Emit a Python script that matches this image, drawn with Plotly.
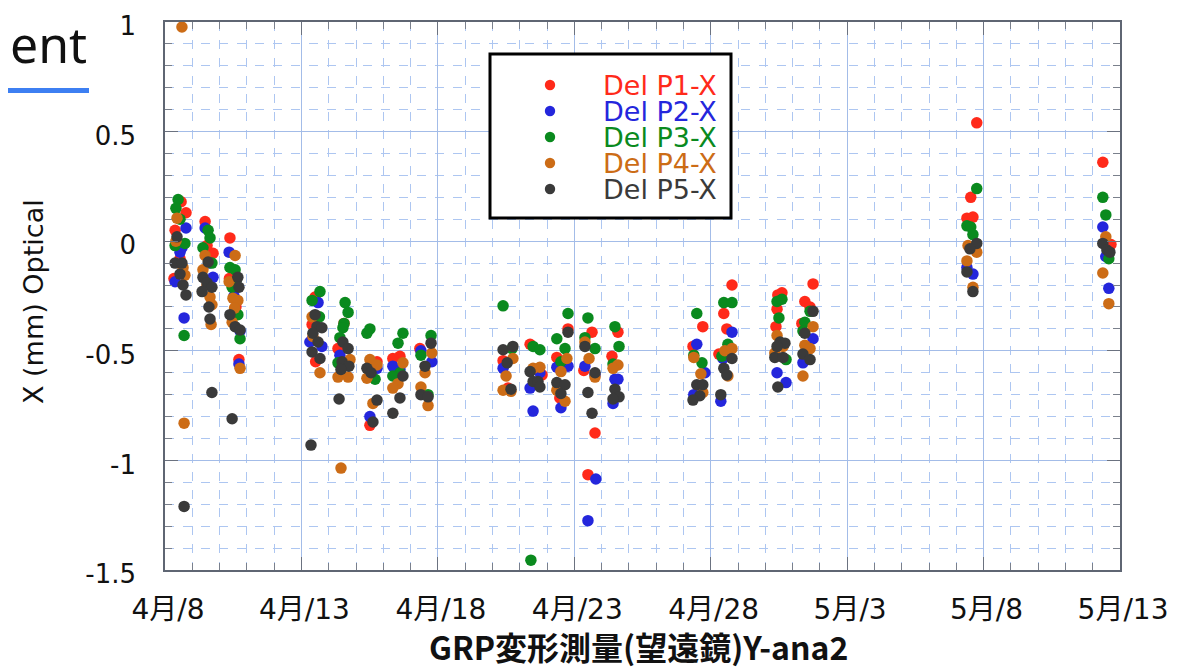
import pandas as pd
import plotly.graph_objects as go

# ---------------- data (x = day of April, May days continue 31, 32, ...) ----------------
p1_day = [8.59, 8.77, 8.37, 8.33, 8.55,
          9.47, 9.76, 9.54,
          10.38, 10.36, 10.71, 10.60,
          13.50, 13.39, 13.52, 14.56, 14.34,
          15.77, 15.51, 16.61, 16.35, 17.34,
          20.39, 20.57, 21.38, 21.82, 22.77, 22.36, 22.47, 23.65, 23.35, 23.76, 23.50, 24.60, 24.38,
          27.71, 27.35, 28.78, 28.48, 28.59, 28.30,
          30.61, 30.46, 30.43, 30.39, 31.75, 31.45, 31.64, 31.34,
          37.75, 37.53, 37.39, 37.61,
          42.37, 42.67]
p1_val = [0.18, 0.13, 0.05, -0.17, -0.08,
          0.09, -0.055, -0.02,
          0.015, -0.17, -0.54, -0.30,
          -0.255, -0.38, -0.55, -0.375, -0.49,
          -0.55, -0.84, -0.525, -0.535, -0.49,
          -0.545, -0.67, -0.47, -0.61, -0.40, -0.53, -0.715, -0.415, -0.59, -0.875, -1.065, -0.415, -0.525,
          -0.39, -0.48, -0.20, -0.33, -0.40, -0.515,
          -0.235, -0.245, -0.31, -0.39, -0.195, -0.275, -0.30, -0.375,
          0.54, 0.20, 0.105, 0.11,
          0.36, -0.015]

p2_day = [8.77, 8.62, 8.55, 8.37, 8.70,
          9.47, 9.76, 9.61,
          10.35, 10.75, 10.71, 10.53,
          13.61, 13.39, 13.31, 13.75, 14.41,
          15.77, 15.51, 16.35, 16.61, 17.38, 17.78,
          20.39, 21.38, 21.49, 21.74, 22.36, 22.77, 22.51, 23.39, 23.76, 23.79, 23.50, 24.49, 24.60, 24.42,
          27.49, 27.79, 27.38, 28.78, 28.45, 28.37,
          30.43, 30.76, 30.54, 31.75, 31.38,
          37.39, 37.61,
          42.37, 42.48, 42.59]
p2_val = [0.06, -0.03, -0.05, -0.185, -0.35,
          0.06, -0.165, -0.10,
          -0.05, -0.41, -0.56, -0.25,
          -0.28, -0.45, -0.46, -0.48, -0.52,
          -0.58, -0.80, -0.57, -0.585, -0.50, -0.55,
          -0.58, -0.67, -0.775, -0.60, -0.575, -0.57, -0.76, -0.57, -0.61, -1.085, -1.275, -0.63, -0.63, -0.74,
          -0.47, -0.60, -0.70, -0.415, -0.535, -0.73,
          -0.60, -0.645, -0.47, -0.445, -0.555,
          -0.12, -0.15,
          0.065, -0.07, -0.215]

p3_day = [8.48, 8.40, 8.37, 8.73, 8.70, 8.55,
          9.58, 9.65, 9.39, 9.72,
          10.38, 10.57, 10.46, 10.67, 10.75, 10.60,
          13.68, 13.39, 13.66, 14.60, 14.71, 14.56, 14.52, 14.41, 14.34,
          15.40, 15.51, 15.70, 16.72, 16.54, 16.61, 16.35, 17.75, 17.38, 17.64,
          20.39, 20.72, 21.41, 21.49, 21.74, 22.77, 22.36, 22.66, 22.51, 23.50, 23.39, 23.76, 24.49, 24.64, 24.42,
          27.49, 27.38, 27.68, 28.48, 28.78, 28.63, 28.41,
          30.43, 30.61, 30.50, 30.76, 31.64, 31.45, 31.38,
          37.75, 37.39, 37.53, 37.61,
          42.37, 42.48, 42.59]
p3_val = [0.19, 0.15, -0.02, -0.01, -0.43, 0.10,
          0.05, 0.015, -0.03, -0.10,
          -0.12, -0.13, -0.21, -0.335, -0.445, -0.18,
          -0.23, -0.27, -0.345, -0.28, -0.325, -0.375, -0.395, -0.44, -0.555,
          -0.42, -0.40, -0.63, -0.42, -0.465, -0.60, -0.615, -0.43, -0.52, -0.70,
          -0.295, -0.49, -1.455, -0.48, -0.495, -0.33, -0.445, -0.49, -0.55, -0.35, -0.44, -0.49, -0.39, -0.48, -0.56,
          -0.33, -0.52, -0.555, -0.28, -0.28, -0.47, -0.525,
          -0.275, -0.265, -0.35, -0.54, -0.32, -0.37, -0.41,
          0.24, 0.07, 0.065, 0.03,
          0.20, 0.12, -0.08]

p4_day = [8.62, 8.44, 8.66, 8.73, 8.70, 8.40,
          9.47, 9.39, 9.65, 9.72, 9.69, 9.54,
          10.57, 10.35, 10.49, 10.67, 10.55, 10.46, 10.75,
          13.39, 13.42, 13.68, 14.78, 14.34, 14.71, 14.45,
          15.51, 15.77, 15.40, 15.62, 16.72, 16.54, 16.35, 17.78, 17.53, 17.38, 17.64,
          20.75, 20.50, 20.39, 20.68, 21.49, 21.74, 22.73, 22.51, 22.36, 22.66, 23.39, 23.54, 23.76, 24.60, 24.42,
          27.38, 27.64, 27.71, 28.78, 28.52, 28.63,
          30.43, 30.65, 30.35, 31.75, 31.45, 31.64, 31.38,
          37.43, 37.75, 37.39, 37.61,
          42.48, 42.37, 42.59]
p4_val = [0.977, 0.105, -0.12, -0.155, -0.83, 0.0,
          -0.065, -0.13, -0.255, -0.29, -0.38, -0.20,
          -0.065, -0.185, -0.26, -0.27, -0.305, -0.37, -0.58,
          -0.345, -0.435, -0.60, -0.54, -0.62, -0.62, -1.035,
          -0.54, -0.565, -0.625, -0.74, -0.555, -0.65, -0.67, -0.51, -0.60, -0.665, -0.75,
          -0.535, -0.615, -0.68, -0.685, -0.58, -0.575, -0.535, -0.595, -0.68, -0.73, -0.46, -0.535, -0.62, -0.565, -0.58,
          -0.53, -0.605, -0.69, -0.49, -0.50, -0.615,
          -0.43, -0.48, -0.51, -0.39, -0.475, -0.49, -0.615,
          -0.02, -0.05, -0.09, -0.21,
          0.02, -0.145, -0.285]

p5_day = [8.44, 8.37, 8.62, 8.66, 8.77, 8.70, 8.55,
          9.58, 9.39, 9.54, 9.72, 9.36, 9.61, 9.65, 9.72,
          10.67, 10.71, 10.38, 10.57, 10.75, 10.46,
          13.50, 13.57, 13.75, 13.42, 13.61, 13.39, 13.68, 13.35, 14.52, 14.71, 14.49, 14.74, 14.45, 14.38,
          15.40, 15.55, 15.77, 15.62, 16.72, 16.61, 16.35, 17.75, 17.53, 17.38, 17.64,
          20.39, 20.75, 20.54, 20.68, 21.38, 21.49, 21.67, 21.74, 22.77, 22.36, 22.66, 22.51, 23.39, 23.76, 23.50, 23.65, 24.49, 24.64, 24.42,
          27.49, 27.71, 27.60, 27.35, 28.78, 28.48, 28.59, 28.37,
          30.54, 30.72, 30.43, 30.35, 30.65, 30.46, 31.75, 31.45, 31.38, 31.64,
          37.75, 37.50, 37.39, 37.61,
          42.37, 42.52, 42.63]
p5_val = [0.02, -0.10, -0.10, -0.20, -0.245, -1.21, -0.15,
          -0.095, -0.165, -0.19, -0.21, -0.23, -0.30, -0.355, -0.69,
          -0.165, -0.21, -0.335, -0.39, -0.405, -0.81,
          -0.335, -0.39, -0.395, -0.42, -0.46, -0.505, -0.535, -0.93, -0.46, -0.49, -0.55, -0.57, -0.585, -0.72,
          -0.58, -0.60, -0.725, -0.825, -0.615, -0.715, -0.785, -0.465, -0.57, -0.70, -0.71,
          -0.495, -0.48, -0.555, -0.675, -0.595, -0.64, -0.64, -0.665, -0.415, -0.645, -0.655, -0.695, -0.48, -0.60, -0.69, -0.785, -0.675, -0.71, -0.72,
          -0.655, -0.655, -0.705, -0.725, -0.535, -0.58, -0.61, -0.70,
          -0.46, -0.465, -0.48, -0.53, -0.53, -0.665, -0.32, -0.42, -0.515, -0.54,
          -0.01, -0.035, -0.14, -0.23,
          -0.01, -0.04, -0.05]

series_names = ["Del P1-X", "Del P2-X", "Del P3-X", "Del P4-X", "Del P5-X"]
series_colors = ["#ff2a1a", "#2426dc", "#0a8a1e", "#cc6c16", "#3a3a3a"]

tick_dates = ["2015-04-08", "2015-04-13", "2015-04-18", "2015-04-23",
              "2015-04-28", "2015-05-03", "2015-05-08", "2015-05-13"]
tick_labels = ["4月/8", "4月/13", "4月/18", "4月/23", "4月/28", "5月/3", "5月/8", "5月/13"]
y_ticks = [1, 0.5, 0, -0.5, -1, -1.5]
y_labels = ["1", "0.5", "0", "-0.5", "-1", "-1.5"]

# ---------------- figure ----------------
BASE = pd.Timestamp("2015-03-31")


def to_dates(days):
    return BASE + pd.to_timedelta(days, unit="D")


# the page body has an 8px margin; size the figure so the plot area lands where the reference has it
BODY = 8
W, H = 1180 - 2 * BODY, 669 - BODY
PAGE_L, PAGE_T = 165, 22          # plot-area corner in window pixels
PW, PH = 955, 548
ML, MT = PAGE_L - BODY, PAGE_T - BODY
MR, MB = W - ML - PW, H - MT - PH


def px(x):
    return (x - PAGE_L) / PW


def py(y):
    return 1 - (y - PAGE_T) / PH


fig = go.Figure()
all_days = [p1_day, p2_day, p3_day, p4_day, p5_day]
all_vals = [p1_val, p2_val, p3_val, p4_val, p5_val]
for name, col, d, v in zip(series_names, series_colors, all_days, all_vals):
    assert len(d) == len(v), name
    fig.add_trace(go.Scatter(
        x=to_dates(d), y=v, mode="markers", name=name,
        marker=dict(color=col, size=11.5, line=dict(width=0)),
        cliponaxis=False,
    ))

major_grid = "#a3bce8"
minor_grid = "#adc6f1"
axis_common = dict(
    showline=True, linecolor="#5f6673", linewidth=1.5, mirror="ticks",
    ticks="inside", ticklen=13, tickcolor="#6b7280", tickwidth=1.2,
    showgrid=True, gridcolor=major_grid, gridwidth=1.3,
    zeroline=False, automargin=False,
)

fig.update_xaxes(
    type="date", range=["2015-04-08", "2015-05-13"],
    tickmode="array", tickvals=tick_dates, ticktext=tick_labels,
    ticklabelstandoff=14, ticklabelshift=3,
    tickfont=dict(family="DejaVu Sans, Noto Sans CJK JP", size=28, color="#111111"),
    minor=dict(dtick=86400000, tick0="2015-04-08", showgrid=True, gridcolor=minor_grid,
               griddash="dash", gridwidth=1, ticks="inside", ticklen=7, tickcolor="#7a808c"),
    **axis_common,
)
fig.update_yaxes(
    range=[-1.5, 1], tickmode="array", tickvals=y_ticks, ticktext=y_labels,
    ticklabelstandoff=22, ticklabelshift=4, ticklabeloverflow="allow",
    tickfont=dict(family="DejaVu Sans", size=26, color="#111111"),
    minor=dict(dtick=0.1, tick0=0, showgrid=True, gridcolor=minor_grid,
               griddash="dash", gridwidth=1, ticks="inside", ticklen=7, tickcolor="#7a808c"),
    **axis_common,
)

shapes = []
annotations = []

# legend box
shapes.append(dict(type="rect", xref="paper", yref="paper",
                   x0=px(490), x1=px(731), y0=py(218), y1=py(54),
                   line=dict(color="black", width=3), fillcolor="white", layer="above"))
row_y = [85, 111, 137, 163, 189]
r = 5.2
for name, col, ry in zip(series_names, series_colors, row_y):
    shapes.append(dict(type="circle", xref="paper", yref="paper",
                       x0=px(550 - r), x1=px(550 + r), y0=py(ry + r), y1=py(ry - r),
                       line=dict(width=0), fillcolor=col, layer="above"))
    annotations.append(dict(text=name, xref="paper", yref="paper", x=px(718), y=py(ry),
                            xanchor="right", yanchor="middle", showarrow=False,
                            height=25, valign="middle", borderpad=0,
                            font=dict(family="DejaVu Sans", size=27, color=col)))

# axis titles
annotations.append(dict(text="X (mm) Optical", xref="paper", yref="paper",
                        x=px(33), y=py(302), textangle=-90, xanchor="center", yanchor="middle",
                        showarrow=False, font=dict(family="DejaVu Sans", size=27, color="#111111")))
annotations.append(dict(text="<b>GRP変形測量(望遠鏡)Y-ana2</b>", xref="paper", yref="paper",
                        x=px(638), y=py(646), xanchor="center", yanchor="middle",
                        showarrow=False,
                        font=dict(family="Noto Sans CJK JP", size=32, color="#111111")))

# slide fragments
annotations.append(dict(text="ent", xref="paper", yref="paper", x=px(BODY), y=py(44),
                        xanchor="left", yanchor="middle", showarrow=False,
                        font=dict(family="Noto Sans", size=50, color="#111111")))
shapes.append(dict(type="rect", xref="paper", yref="paper",
                   x0=px(BODY), x1=px(89), y0=py(93), y1=py(88),
                   line=dict(width=0), fillcolor="#3d7ff2", layer="above"))

fig.update_layout(
    width=W, height=H,
    margin=dict(l=ML, r=MR, t=MT, b=MB, autoexpand=False),
    paper_bgcolor="white", plot_bgcolor="white",
    showlegend=False,
    shapes=shapes, annotations=annotations,
    font=dict(family="DejaVu Sans"),
)

fig.write_html("out.html")
